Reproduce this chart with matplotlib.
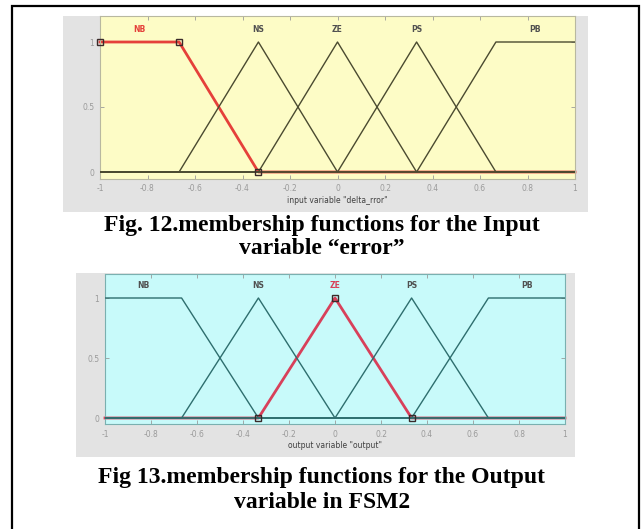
import matplotlib
matplotlib.use('Agg')
import matplotlib.pyplot as plt
from matplotlib.patches import Rectangle
import numpy as np

W, H = 644, 529
fig = plt.figure(figsize=(W / 100, H / 100), dpi=100)
fig.patch.set_facecolor('white')

# ── membership function data ────────────────────────────────────────────────
universe = [-1.0, 1.0]
mf_names = ['NB', 'NS', 'ZE', 'PS', 'PB']

# breakpoints (x) of each function; trapezoids have 4, triangles 3
in_params = [[-1.333, -1.0, -0.667, -0.333],
             [-0.667, -0.333, 0.0],
             [-0.333, 0.0, 0.333],
             [0.0, 0.333, 0.667],
             [0.333, 0.667, 1.0, 1.333]]
out_params = [[-1.333, -1.0, -0.667, -0.333],
              [-0.667, -0.333, 0.0],
              [-0.333, 0.0, 0.333],
              [0.0, 0.333, 0.667],
              [0.333, 0.667, 1.0, 1.333]]
trap_y = [0, 1, 1, 0]
tri_y = [0, 1, 0]

x_ticks = [-1, -0.8, -0.6, -0.4, -0.2, 0, 0.2, 0.4, 0.6, 0.8, 1]
x_ticklabels = ['-1', '-0.8', '-0.6', '-0.4', '-0.2', '0', '0.2', '0.4', '0.6', '0.8', '1']
y_ticks = [0, 0.5, 1]
y_ticklabels = ['0', '0.5', '1']


def px_rect(x0, y0, x1, y1):
    """pixel box (top-left origin) -> figure fraction [l, b, w, h]"""
    return [x0 / W, 1 - y1 / H, (x1 - x0) / W, (y1 - y0) / H]


def mf_curve(params):
    ys = trap_y if len(params) == 4 else tri_y
    xs = sorted(set([universe[0], universe[1]] +
                    [p for p in params if universe[0] <= p <= universe[1]]))
    return np.array(xs), np.interp(xs, params, ys)


def draw_panel(gray_box, ax_box, params, selected, face, line_col, sel_col,
               spine_col, xlabel):
    g = px_rect(*gray_box)
    fig.add_artist(Rectangle((g[0], g[1]), g[2], g[3], transform=fig.transFigure,
                             facecolor='#e3e3e3', edgecolor='none', zorder=0))
    ax = fig.add_axes(px_rect(*ax_box))
    ax.set_facecolor(face)
    ax.set_xlim(universe)
    ax.set_ylim(-0.05, 1.2)
    for s in ax.spines.values():
        s.set_color(spine_col)
        s.set_linewidth(0.8)

    for i, (name, p) in enumerate(zip(mf_names, params)):
        xs, ys = mf_curve(p)
        if i == selected:
            ax.plot(xs, ys, color=sel_col, lw=2.0, zorder=2, clip_on=False)
            # square handles on the selected function's breakpoints
            mk = [(px, py) for px, py in zip(xs, ys) if px in p]
            ax.plot([m[0] for m in mk], [m[1] for m in mk], 's', ms=4.5,
                    mfc='none', mec='#3a2a2a', mew=1.0, zorder=4, clip_on=False)
            col = sel_col
        else:
            ax.plot(xs, ys, color=line_col, lw=1.0, zorder=3)
            col = '#505050'
        top = xs[ys == 1]
        ax.text(top.mean(), 1.1, name, ha='center', va='center',
                fontsize=5.5, color=col, fontweight='bold')

    ax.set_xticks(x_ticks)
    ax.set_xticklabels(x_ticklabels)
    ax.set_yticks(y_ticks)
    ax.set_yticklabels(y_ticklabels)
    ax.tick_params(direction='in', length=3, width=0.6, colors='#9a9a9a',
                   labelsize=5.5, top=True, right=True, pad=4)
    ax.set_xlabel(xlabel, fontsize=5.5, color='#404040', labelpad=2)
    return ax


# ── input panel ─────────────────────────────────────────────────────────────
draw_panel((63, 16, 588, 212), (100, 16, 575, 178.5), in_params, 0,
           '#fdfcc6', '#4a4a30', '#e5403a', '#b8b8a0',
           'input variable "delta_rror"')

# ── output panel ────────────────────────────────────────────────────────────
draw_panel((76, 273, 575, 457), (105, 274, 565, 424), out_params, 2,
           '#c8fafa', '#2e6e6e', '#d8405a', '#7ab0b0',
           'output variable "output"')

# ── captions ────────────────────────────────────────────────────────────────
cap = dict(ha='center', va='center', fontsize=17, fontweight='bold',
           family='Liberation Serif', color='black', transform=fig.transFigure)
fig.text(322 / W, 1 - 225 / H, 'Fig. 12.membership functions for the Input', **cap)
fig.text(322 / W, 1 - 249 / H, 'variable \u201cerror\u201d', **cap)
fig.text(322 / W, 1 - 478 / H, 'Fig 13.membership functions for the Output', **cap)
fig.text(322 / W, 1 - 502 / H, 'variable in FSM2', **cap)

# outer frame (bottom edge falls outside the image)
fig.add_artist(Rectangle((12 / W, -0.05), 627 / W, 1 - 6 / H + 0.05,
                         transform=fig.transFigure, facecolor='none',
                         edgecolor='black', linewidth=1.6, zorder=10))

fig.savefig('out.png', dpi=100, facecolor='white')
